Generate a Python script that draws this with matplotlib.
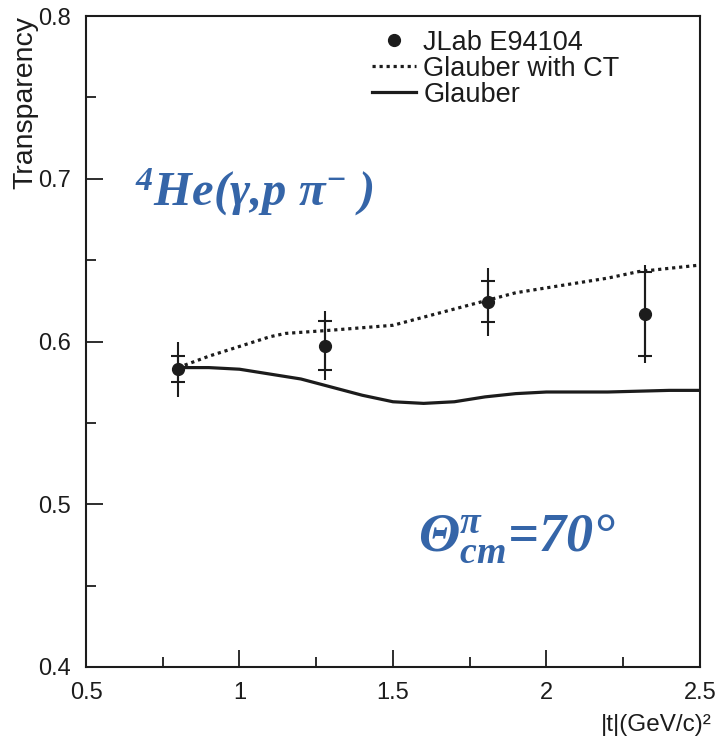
import numpy as np
import matplotlib
matplotlib.use('Agg')
import matplotlib.pyplot as plt
from matplotlib.ticker import MultipleLocator

plt.rcParams['font.family'] = ['Liberation Sans', 'DejaVu Sans']
plt.rcParams['mathtext.fontset'] = 'custom'
plt.rcParams['mathtext.it'] = 'Liberation Serif:italic:bold'
plt.rcParams['mathtext.rm'] = 'Liberation Serif:italic:bold'

# JLab E94104 data points
t_data = [0.80, 1.28, 1.81, 2.32]
T_data = [0.583, 0.5975, 0.6245, 0.617]
err_stat = [0.008, 0.015, 0.0125, 0.026]
err_tot = [0.017, 0.021, 0.021, 0.030]

# Glauber with CT (dotted)
t_ct = [0.80, 0.90, 1.00, 1.10, 1.15, 1.30, 1.50, 1.60, 1.70, 1.80, 1.90, 2.00, 2.10, 2.20, 2.30, 2.40, 2.50]
T_ct = [0.584, 0.591, 0.597, 0.603, 0.605, 0.607, 0.610, 0.615, 0.620, 0.625, 0.630, 0.633, 0.636, 0.639, 0.643, 0.645, 0.647]

# Glauber (solid)
t_gl = [0.80, 0.90, 1.00, 1.10, 1.20, 1.30, 1.40, 1.50, 1.60, 1.70, 1.80, 1.90, 2.00, 2.20, 2.40, 2.50]
T_gl = [0.584, 0.584, 0.583, 0.580, 0.577, 0.572, 0.567, 0.563, 0.562, 0.563, 0.566, 0.568, 0.569, 0.569, 0.570, 0.570]

xtick_labels = ['0.5', '1', '1.5', '2', '2.5']

blue = '#3565a8'
ink = '#1c1c1c'

fig = plt.figure(figsize=(7.18, 7.43), dpi=100)
ax = fig.add_axes([0.1198, 0.1023, 0.855, 0.876])

# total errors as plain line, statistical errors with caps
ax.errorbar(t_data, T_data, yerr=err_tot, fmt='none', ecolor=ink, elinewidth=1.5, capsize=0)
ax.errorbar(t_data, T_data, yerr=err_stat, fmt='none', ecolor=ink, elinewidth=1.5, capsize=5, capthick=1.5)
ax.plot(t_data, T_data, 'o', color=ink, ms=8.5, label='JLab E94104')
ax.plot(t_ct, T_ct, color=ink, lw=2.3, linestyle=(0, (1, 1.2)), label='Glauber with CT')
ax.plot(t_gl, T_gl, color=ink, lw=2.3, label='Glauber')

ax.set_xlim(0.5, 2.5)
ax.set_ylim(0.4, 0.8)
ax.set_xticks([0.5, 1, 1.5, 2, 2.5])
ax.set_xticklabels(xtick_labels)
ax.xaxis.set_minor_locator(MultipleLocator(0.25))
ax.yaxis.set_major_locator(MultipleLocator(0.1))
ax.yaxis.set_minor_locator(MultipleLocator(0.05))
ax.tick_params(which='both', direction='in', top=False, right=False, labelsize=17, width=1.3, colors=ink)
ax.tick_params(which='major', length=12, pad=11)
ax.tick_params(which='minor', length=7)
for s in ax.spines.values():
    s.set_linewidth(1.5)
    s.set_color(ink)

ax.set_xlabel('|t|(GeV/c)²', fontsize=17.5, color=ink)
ax.xaxis.set_label_coords(1.02, -0.072)
ax.xaxis.label.set_horizontalalignment('right')
ax.set_ylabel('Transparency', fontsize=20.5, loc='top', color=ink)
ax.yaxis.set_label_coords(-0.077, 1.0)

ax.legend(loc='upper right', bbox_to_anchor=(0.9, 1.008), frameon=False, fontsize=19.5,
          handlelength=1.65, handletextpad=0.26, labelspacing=0.0, borderaxespad=0.3,
          labelcolor=ink)

ax.text(0.08, 0.73, r'$^{4}$He(γ,p π$^{-}$ )', transform=ax.transAxes, fontsize=35,
        color=blue, family='Liberation Serif', style='italic', weight='bold', va='center')
ax.text(0.54, 0.198, r'Θ$^{\pi}_{cm}$=70°', transform=ax.transAxes, fontsize=39,
        color=blue, family='Liberation Serif', style='italic', weight='bold', va='center')

fig.savefig('out.png', dpi=100)
